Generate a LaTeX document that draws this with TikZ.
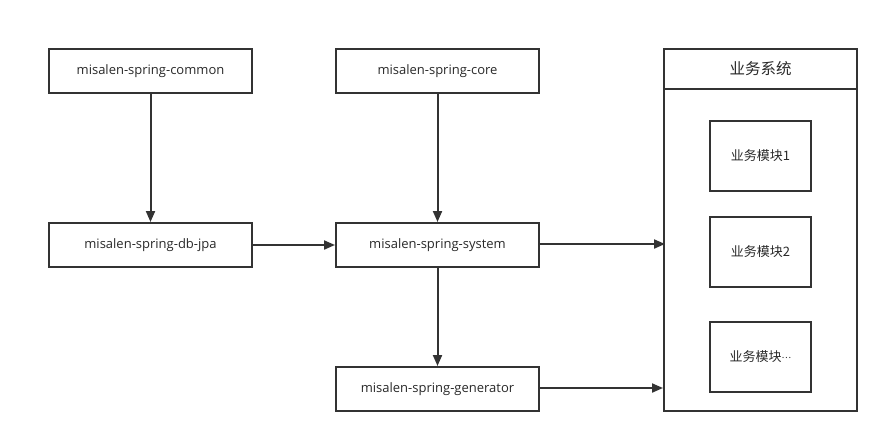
\documentclass[tikz,border=0pt]{standalone}
\usepackage{fontspec}
\setmainfont{Open Sans}
\newfontfamily\cjk{Noto Sans CJK SC}
\usetikzlibrary{arrows.meta}
\definecolor{ln}{HTML}{333333}
\begin{document}
\begin{tikzpicture}[x=1pt,y=-1pt,
  box/.style={draw=ln,line width=2pt,minimum width=203pt,minimum height=44pt,inner sep=0pt,font=\fontsize{13}{15}\selectfont,text=ln!80!black,anchor=north west},
  modbox/.style={draw=ln,line width=2pt,minimum width=101pt,minimum height=70pt,inner sep=0pt,font=\cjk\fontsize{13}{15}\selectfont,text=ln!80!black,anchor=north west},
  conn/.style={draw=ln,line width=2pt,-{Triangle[length=11pt,width=9pt]}}]
\useasboundingbox (0,0) rectangle (888,442);
\fill[white] (0,0) rectangle (888,442);
\node[box] (common) at (48,48) {misalen-spring-common};
\node[box] (jpa) at (48,222) {misalen-spring-db-jpa};
\node[box] (core) at (335,48) {misalen-spring-core};
\node[box] (system) at (335,222) {misalen-spring-system};
\node[box] (gen) at (335,366) {misalen-spring-generator};
\node[draw=ln,line width=2pt,minimum width=193pt,minimum height=362pt,inner sep=0pt,anchor=north west] (biz) at (663,48) {};
\node[draw=ln,line width=2pt,minimum width=193pt,minimum height=40pt,inner sep=0pt,anchor=north west,font=\cjk\fontsize{15.5}{18}\selectfont,text=ln!80!black] (bizhead) at (663,48) {业务系统};
\node[modbox] (m1) at (709,120) {业务模块1};
\node[modbox] (m2) at (709,216) {业务模块2};
\node[modbox] (m3) at (709,321) {业务模块\raisebox{3.5pt}{\fontsize{9}{9}\selectfont …}};
\coordinate (in1) at (665,244);
\coordinate (in2) at (663,388);
\draw[conn] (common) -- (jpa);
\draw[conn] (core) -- (system);
\draw[conn] (jpa) -- (system);
\draw[conn] (system) -- (gen);
\draw[conn] (system.east |- in1) -- (in1);
\draw[conn] (gen.east |- in2) -- (in2);
\end{tikzpicture}
\end{document}
